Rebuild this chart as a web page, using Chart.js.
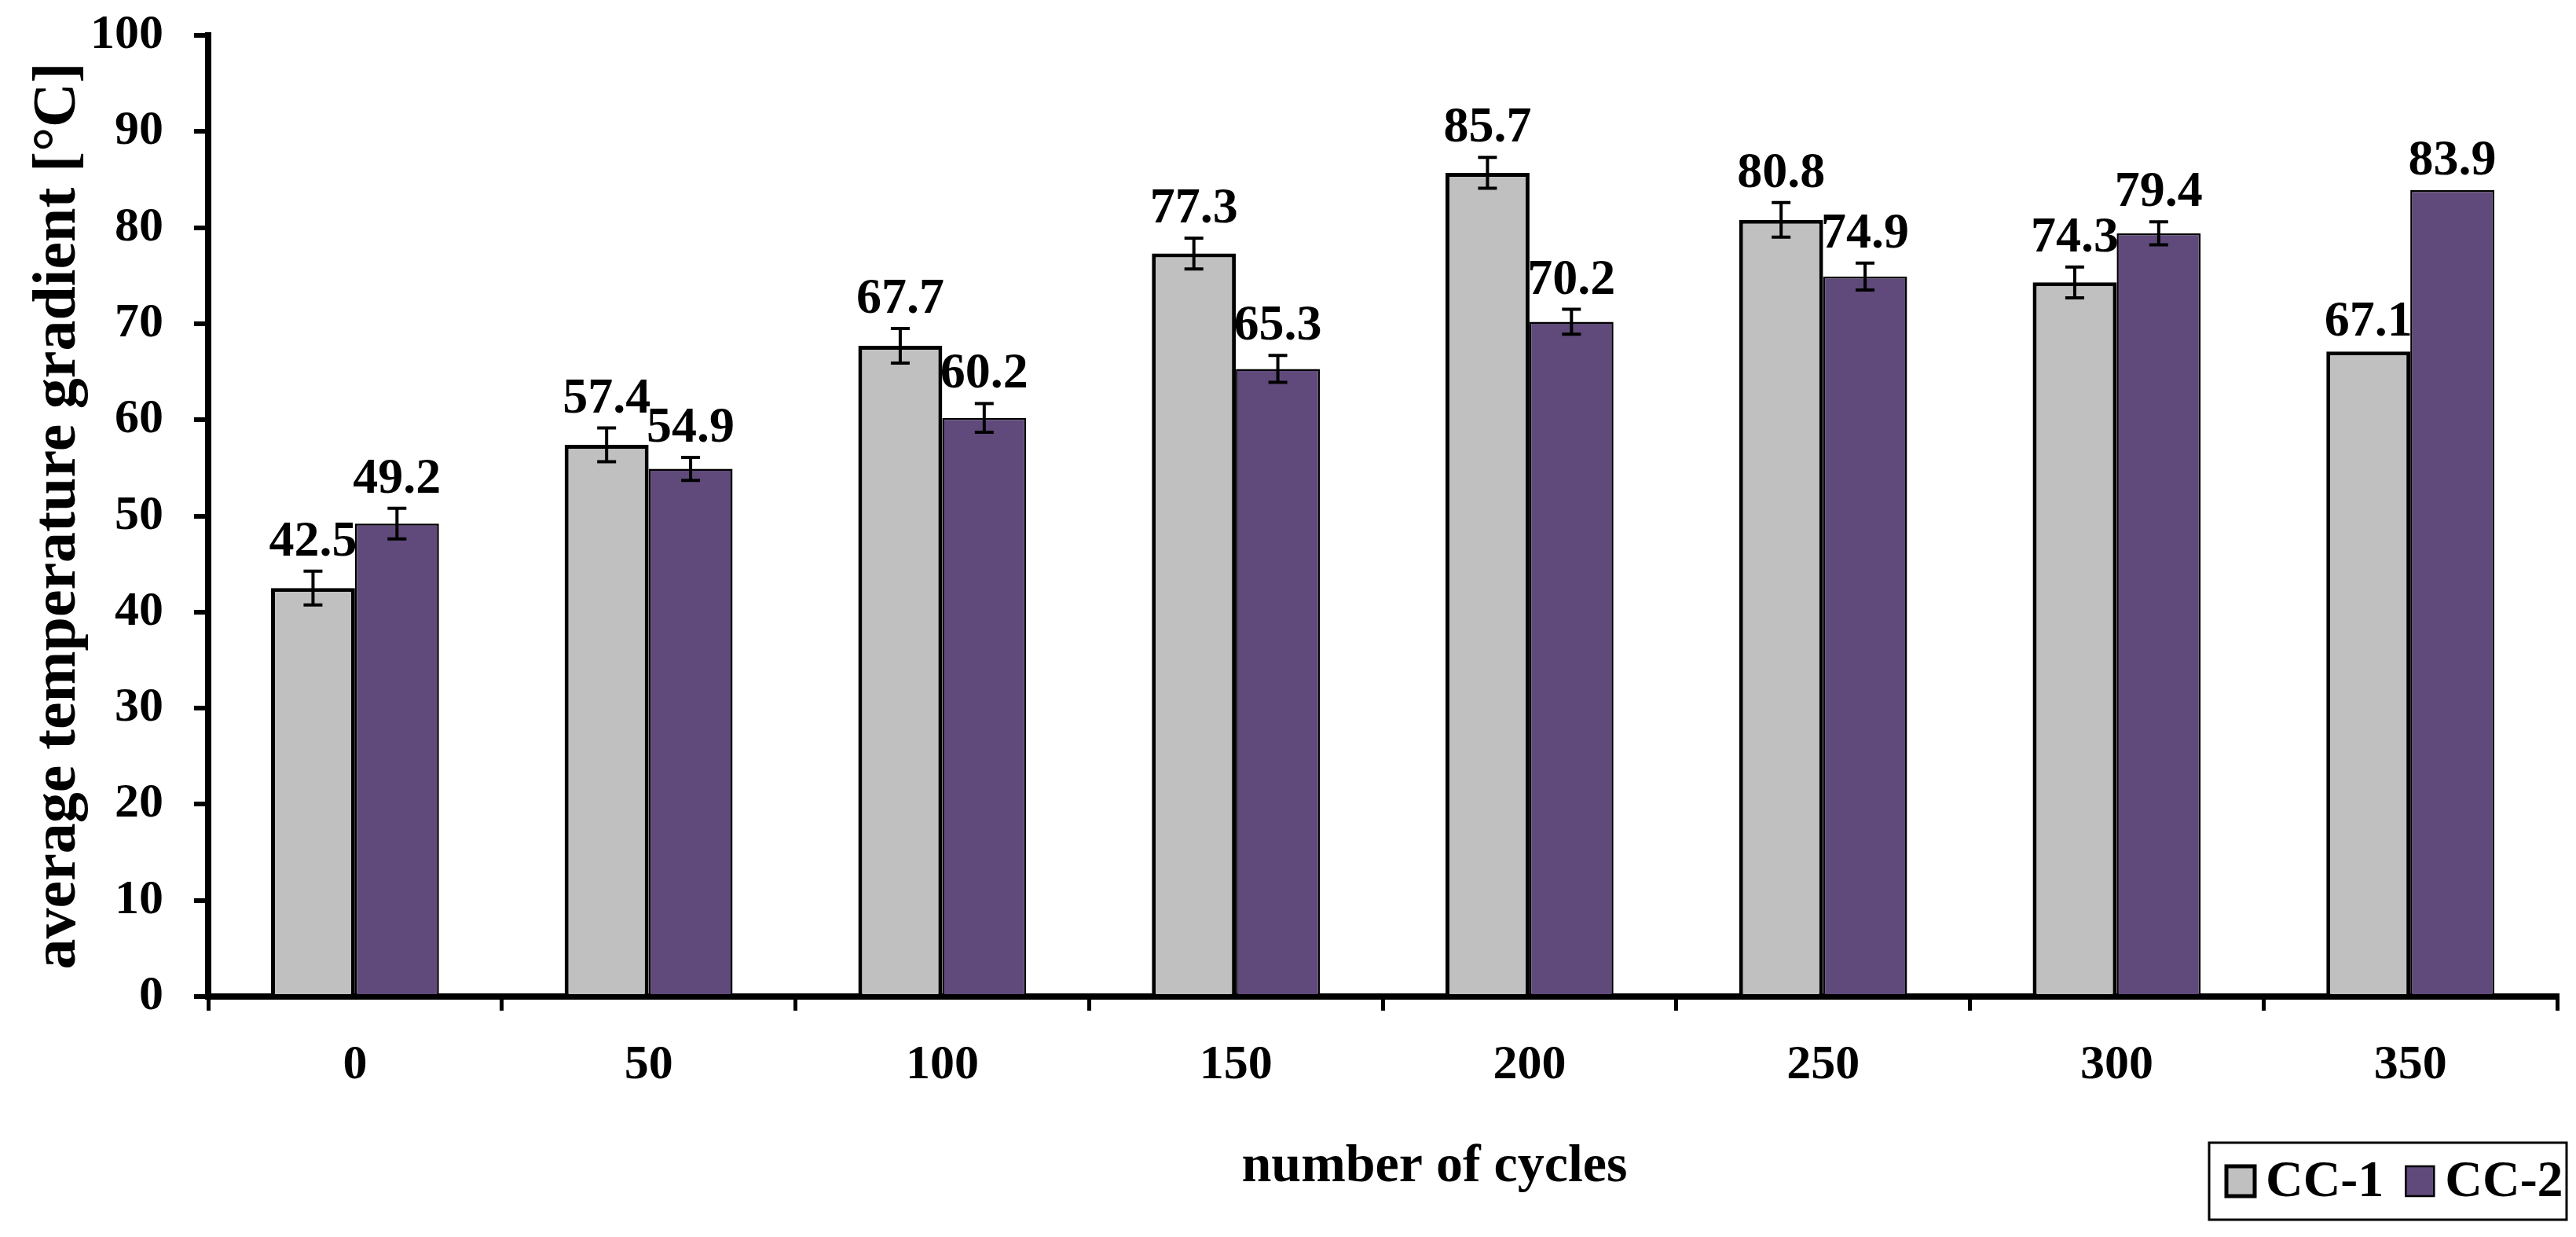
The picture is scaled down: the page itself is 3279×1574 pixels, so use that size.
<!DOCTYPE html>
<html>
<head>
<meta charset="utf-8">
<title>average temperature gradient</title>
<script src="https://cdn.jsdelivr.net/npm/chart.js@4"></script>
<style>
  html, body { margin: 0; padding: 0; background: #fff; }
  canvas { display: block; }
</style>
</head>
<body>
<canvas id="gradientChart" width="3279" height="1574"></canvas>
<script>
// Data
const cycles = ["0", "50", "100", "150", "200", "250", "300", "350"];
const cc1 = [42.5, 57.4, 67.7, 77.3, 85.7, 80.8, 74.3, 67.1];
const cc2 = [49.2, 54.9, 60.2, 65.3, 70.2, 74.9, 79.4, 83.9];
// error bar half-lengths (estimated), last group has none
const cc1Err = [1.75, 1.75, 1.8, 1.6, 1.6, 1.8, 1.6, 0];
const cc2Err = [1.6, 1.2, 1.5, 1.4, 1.3, 1.4, 1.2, 0];
const yTicks = [0, 10, 20, 30, 40, 50, 60, 70, 80, 90, 100];
const xTitle = "number of cycles";

const FONT = "'Liberation Serif', 'Times New Roman', serif";

// Error bars + value labels above each bar
const errorBarsAndLabels = {
  id: "errorBarsAndLabels",
  afterDatasetsDraw(chart) {
    const ctx = chart.ctx;
    const yScale = chart.scales.y;
    chart.data.datasets.forEach((ds, i) => {
      const meta = chart.getDatasetMeta(i);
      meta.data.forEach((bar, j) => {
        const v = ds.data[j];
        const e = ds.errors[j];
        const yTop = yScale.getPixelForValue(v + e);
        ctx.save();
        if (e > 0) {
          const yBot = yScale.getPixelForValue(v - e);
          ctx.strokeStyle = "#000";
          ctx.lineWidth = 4;
          ctx.beginPath();
          ctx.moveTo(bar.x, yTop);
          ctx.lineTo(bar.x, yBot);
          ctx.moveTo(bar.x - 12, yTop);
          ctx.lineTo(bar.x + 12, yTop);
          ctx.moveTo(bar.x - 12, yBot);
          ctx.lineTo(bar.x + 12, yBot);
          ctx.stroke();
        }
        ctx.fillStyle = "#000";
        ctx.font = "bold 64px " + FONT;
        ctx.textAlign = "center";
        ctx.textBaseline = "alphabetic";
        ctx.fillText(v.toFixed(1), bar.x, yTop - 20);
        ctx.restore();
      });
    });
  }
};

// x title (sits a little right of centre in the original) and boxed legend
const titleAndLegend = {
  id: "titleAndLegend",
  afterDraw(chart) {
    const ctx = chart.ctx;
    const area = chart.chartArea;
    ctx.save();
    ctx.fillStyle = "#000";
    ctx.font = "bold 68px " + FONT;
    ctx.textAlign = "center";
    ctx.textBaseline = "middle";
    ctx.fillText(xTitle, (area.left + area.right) / 2 + 66, 1485);

    const left = 2812, top = 1454, right = 3267, bottom = 1552;
    const midY = (top + bottom) / 2;
    ctx.strokeStyle = "#000";
    ctx.lineWidth = 3;
    ctx.strokeRect(left, top, right - left, bottom - top);
    ctx.font = "bold 66px " + FONT;
    ctx.textAlign = "left";
    let x = left + 22;
    chart.data.datasets.forEach((ds) => {
      ctx.fillStyle = ds.backgroundColor;
      ctx.fillRect(x, midY - 19, 36, 38);
      ctx.lineWidth = ds.borderWidth;
      ctx.strokeStyle = "#000";
      ctx.strokeRect(x, midY - 19, 36, 38);
      x += 50;
      ctx.fillStyle = "#000";
      ctx.fillText(ds.label, x, midY + 2);
      x += ctx.measureText(ds.label).width + 28;
    });
    ctx.restore();
  }
};

new Chart(document.getElementById("gradientChart"), {
  type: "bar",
  data: {
    labels: cycles,
    datasets: [
      {
        label: "CC-1",
        data: cc1,
        errors: cc1Err,
        backgroundColor: "#C0C0C0",
        borderColor: "#000",
        borderWidth: 5
      },
      {
        label: "CC-2",
        data: cc2,
        errors: cc2Err,
        backgroundColor: "#604A7B",
        borderColor: "#000",
        borderWidth: 2.5
      }
    ]
  },
  options: {
    responsive: false,
    devicePixelRatio: 1,
    animation: false,
    layout: { padding: { top: 45, right: 24, left: 0, bottom: 0 } },
    datasets: {
      bar: { categoryPercentage: 0.572, barPercentage: 1.0 }
    },
    plugins: {
      legend: { display: false },
      tooltip: { enabled: false }
    },
    scales: {
      x: {
        afterFit(scale) { scale.height = 306; },
        grid: {
          drawOnChartArea: false,
          offset: true,
          tickLength: 18,
          lineWidth: 5,
          color: "#000"
        },
        border: { display: true, color: "#000", width: 8 },
        ticks: {
          color: "#000",
          padding: 33,
          font: { family: FONT, size: 62, weight: "bold" }
        }
      },
      y: {
        min: 0,
        max: 100,
        afterFit(scale) {
          scale.width = 265;
          scale.paddingTop = 0;
        },
        afterBuildTicks(scale) { scale.ticks = yTicks.map(v => ({ value: v })); },
        grid: {
          drawOnChartArea: false,
          tickLength: 18,
          lineWidth: 6,
          color: "#000"
        },
        border: { display: true, color: "#000", width: 8 },
        ticks: {
          color: "#000",
          padding: 39,
          font: { family: FONT, size: 62, weight: "bold" }
        },
        title: {
          display: true,
          text: "average temperature gradient [°C]",
          color: "#000",
          padding: { top: 28, bottom: 0 },
          font: { family: FONT, size: 78, weight: "bold" }
        }
      }
    }
  },
  plugins: [errorBarsAndLabels, titleAndLegend]
});
</script>
</body>
</html>
